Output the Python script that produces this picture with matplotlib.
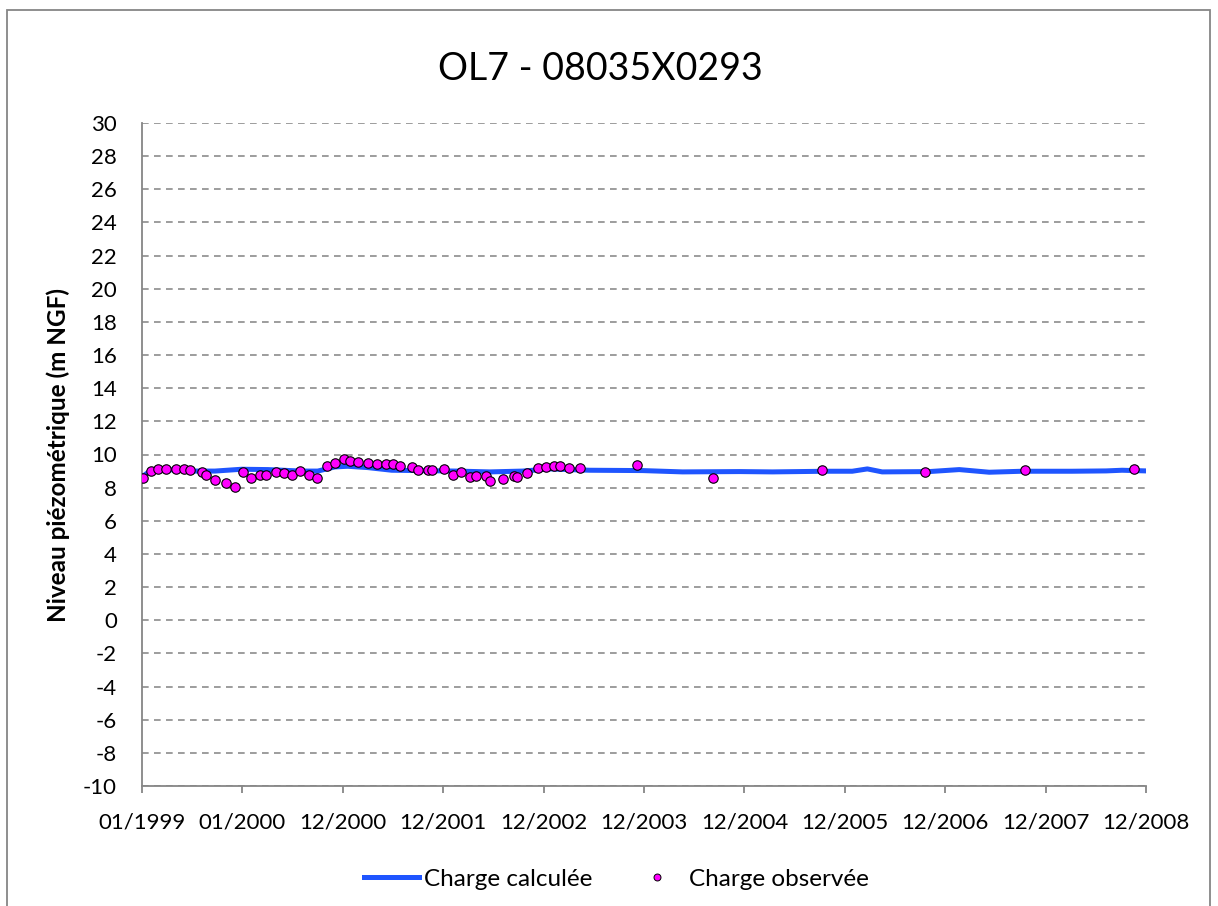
import matplotlib
matplotlib.use("Agg")
import matplotlib.pyplot as plt
from matplotlib.patches import Rectangle
from matplotlib.lines import Line2D
import pandas as pd
import numpy as np

# Simulated head (model output)
calc_dates = [
    "1999-01-01", "1999-01-30", "1999-04-05", "1999-07-13", "1999-09-23",
    "1999-12-29", "2000-04-03", "2000-08-03", "2000-10-01", "2000-12-02",
    "2001-01-18", "2001-04-01", "2001-06-27", "2002-02-17", "2002-06-18",
    "2002-10-16", "2003-01-22", "2003-06-16", "2003-12-26", "2004-05-19",
    "2004-12-12", "2005-04-11", "2005-10-24", "2006-01-26", "2006-03-22",
    "2006-05-15", "2006-11-02", "2007-02-19", "2007-06-08", "2007-10-06",
    "2008-04-04", "2008-08-06", "2008-10-03", "2008-12-29",
]
calc_values = [
    8.65, 9.00, 9.09, 9.00, 9.00,
    9.11, 9.09, 9.00, 9.00, 9.25,
    9.29, 9.21, 9.05, 9.00, 8.95,
    9.00, 9.13, 9.05, 9.03, 8.95,
    8.97, 8.95, 8.99, 8.99, 9.13,
    8.95, 8.97, 9.09, 8.93, 8.99,
    8.99, 9.01, 9.05, 9.01,
]

# Observed head (piezometer 08035X0293)
obs_dates = [
    "1999-01-03", "1999-02-01", "1999-02-27", "1999-03-30", "1999-05-03",
    "1999-06-04", "1999-06-26", "1999-08-06", "1999-08-23", "1999-09-24",
    "1999-11-01", "1999-12-05", "2000-01-02", "2000-01-31", "2000-03-06",
    "2000-03-26", "2000-05-01", "2000-06-01", "2000-06-30", "2000-07-28",
    "2000-08-31", "2000-09-29", "2000-11-05", "2000-12-02", "2001-01-05",
    "2001-01-27", "2001-02-26", "2001-03-31", "2001-05-04", "2001-06-05",
    "2001-07-01", "2001-07-27", "2001-09-07", "2001-10-02", "2001-11-04",
    "2001-11-22", "2002-01-04", "2002-02-05", "2002-03-06", "2002-04-06",
    "2002-04-28", "2002-06-06", "2002-06-20", "2002-08-07", "2002-09-13",
    "2002-09-27", "2002-11-02", "2002-12-12", "2003-01-10", "2003-02-08",
    "2003-02-27", "2003-04-03", "2003-05-13", "2003-12-04", "2004-09-08",
    "2005-10-07", "2006-10-16", "2007-10-15", "2008-11-16",
]
obs_values = [
    8.57, 8.99, 9.15, 9.15, 9.15,
    9.11, 9.09, 8.95, 8.75, 8.46,
    8.26, 8.06, 8.93, 8.61, 8.77,
    8.75, 8.93, 8.87, 8.77, 8.99,
    8.79, 8.61, 9.29, 9.49, 9.70,
    9.62, 9.54, 9.49, 9.45, 9.43,
    9.45, 9.31, 9.25, 9.09, 9.09,
    9.09, 9.13, 8.79, 8.97, 8.65,
    8.69, 8.73, 8.38, 8.53, 8.69,
    8.65, 8.91, 9.17, 9.25, 9.33,
    9.31, 9.17, 9.17, 9.35, 8.61,
    9.07, 8.93, 9.05, 9.13,
]

tick_labels = ["01/1999", "01/2000", "12/2000", "12/2001", "12/2002", "12/2003",
               "12/2004", "12/2005", "12/2006", "12/2007", "12/2008"]

plt.rcParams["font.family"] = ["Lato", "DejaVu Sans"]
plt.rcParams["axes.unicode_minus"] = False

W, H = 1218, 906
fig = plt.figure(figsize=(W / 100, H / 100), dpi=100)

# outer chart frame
fig.patches.append(Rectangle((7 / W, -0.01), (1210 - 7) / W, 1 - 10 / H + 0.01,
                             transform=fig.transFigure, fill=False,
                             edgecolor="#868686", linewidth=1.3))

ax = fig.add_axes([142 / W, 1 - 786 / H, (1146 - 142) / W, (786 - 123) / H])

cd = pd.to_datetime(calc_dates)
od = pd.to_datetime(obs_dates)

line_color = "#1F55FF"
ax.plot(cd, calc_values, color=line_color, linewidth=3.6, solid_capstyle="round",
        solid_joinstyle="round", zorder=3)
ax.plot(od, obs_values, linestyle="none", marker="o", markersize=6.8,
        markerfacecolor="#FF00FF", markeredgecolor="black", markeredgewidth=0.8,
        zorder=4)

start = pd.Timestamp("1999-01-01")
xticks = [start + pd.Timedelta(days=365 * k) for k in range(len(tick_labels))]
ax.set_xlim(xticks[0], xticks[-1])
ax.set_xticks(xticks)
ax.set_xticklabels(tick_labels)

ax.set_ylim(-10, 30)
ax.set_yticks(np.arange(-10, 31, 2))

ax.grid(axis="y", color="#8C8C8C", linestyle=(0, (4, 3.2)), linewidth=1.2)
ax.set_axisbelow(True)

for s in ("top", "right"):
    ax.spines[s].set_visible(False)
for s in ("left", "bottom"):
    ax.spines[s].set_color("#868686")
    ax.spines[s].set_linewidth(1.3)

ax.tick_params(axis="y", length=0, pad=18, labelsize=16, labelcolor="black")
ax.tick_params(axis="x", length=5, width=1.3, color="#868686", direction="out",
               pad=14, labelsize=16, labelcolor="black")

ax.set_ylabel("Niveau piézométrique (m NGF)", fontsize=17.5, fontweight="bold")
ax.yaxis.set_label_coords(-0.0717, 0.5)

fig.text(600 / W, 1 - 69 / H, "OL7 - 08035X0293", ha="center", va="center",
         fontsize=27)

handles = [
    Line2D([], [], color=line_color, linewidth=3.6),
    Line2D([], [], linestyle="none", marker="o", markersize=5,
           markerfacecolor="#FF00FF", markeredgecolor="black", markeredgewidth=0.7),
]
fig.legend(handles, ["Charge calculée", "Charge observée"], loc="center left",
           bbox_to_anchor=(364 / W, 1 - 879 / H), ncol=2, frameon=False,
           fontsize=17.5, handlelength=2.26, handletextpad=0.19,
           columnspacing=1.56, borderpad=0, borderaxespad=0)

fig.savefig("out.png", dpi=100)
